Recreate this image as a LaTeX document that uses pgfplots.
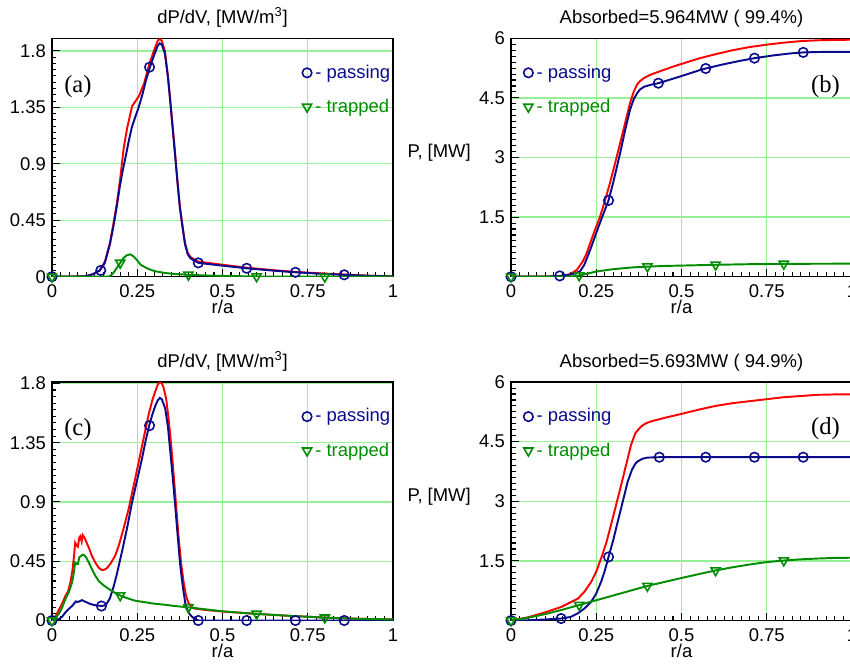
\documentclass[border=0pt]{standalone}
\usepackage{pgfplots}
\pgfplotsset{compat=1.18}
\usepackage{pgfplotstable}
\usepackage{fontspec}
\setmainfont{Liberation Sans}
\newfontfamily\serif{Liberation Serif}

\definecolor{pblue}{RGB}{10,10,140}
\definecolor{tgreen}{RGB}{0,140,0}
\definecolor{gridgreen}{RGB}{150,240,150}

% ---------- (a) power density, case 1 ----------
\pgfplotstableread{
x y
0 0
0.05 0
0.10 0.005
0.12 0.02
0.14 0.05
0.155 0.12
0.17 0.27
0.18 0.42
0.19 0.58
0.20 0.78
0.21 1.02
0.22 1.18
0.23 1.30
0.235 1.36
0.245 1.40
0.255 1.44
0.27 1.54
0.285 1.69
0.30 1.81
0.31 1.88
0.316 1.895
0.322 1.88
0.331 1.80
0.34 1.60
0.346 1.43
0.355 1.16
0.361 0.98
0.368 0.76
0.375 0.56
0.383 0.40
0.39 0.27
0.398 0.19
0.405 0.16
0.415 0.14
0.43 0.12
0.5 0.095
0.57 0.072
0.65 0.052
0.72 0.037
0.8 0.025
0.86 0.017
0.93 0.008
1.0 0.003
}\aRed
\pgfplotstableread{
x y
0 0
0.05 0
0.10 0.004
0.12 0.02
0.14 0.05
0.155 0.11
0.17 0.26
0.18 0.40
0.19 0.56
0.199 0.72
0.207 0.84
0.214 0.93
0.225 1.08
0.234 1.19
0.245 1.28
0.253 1.34
0.265 1.45
0.275 1.56
0.286 1.66
0.30 1.77
0.31 1.84
0.316 1.86
0.322 1.85
0.331 1.78
0.34 1.59
0.346 1.42
0.355 1.15
0.361 0.97
0.368 0.75
0.375 0.55
0.383 0.39
0.39 0.26
0.398 0.18
0.405 0.15
0.415 0.13
0.43 0.11
0.5 0.088
0.571 0.067
0.65 0.048
0.714 0.035
0.8 0.022
0.857 0.015
0.93 0.007
1.0 0.002
}\aBlue
\pgfplotstableread{
x y
0 0
0.16 0
0.17 0.005
0.18 0.03
0.19 0.07
0.20 0.11
0.21 0.15
0.22 0.172
0.23 0.178
0.24 0.16
0.25 0.13
0.26 0.095
0.28 0.065
0.30 0.045
0.33 0.03
0.36 0.022
0.40 0.015
0.45 0.01
0.5 0.006
0.6 0.002
0.7 0
1.0 0
}\aGreen

% ---------- (b) integrated power, case 1 ----------
\pgfplotstableread{
x y
0 0
0.1 0
0.14 0.01
0.16 0.03
0.175 0.07
0.193 0.17
0.21 0.38
0.22 0.55
0.232 0.84
0.245 1.15
0.261 1.51
0.275 1.90
0.29 2.35
0.305 2.85
0.32 3.36
0.335 3.88
0.349 4.37
0.36 4.66
0.37 4.84
0.378 4.92
0.39 5.00
0.408 5.08
0.44 5.18
0.476 5.29
0.52 5.41
0.554 5.50
0.6 5.60
0.65 5.70
0.7 5.78
0.75 5.84
0.8 5.89
0.85 5.93
0.9 5.95
0.95 5.96
1.0 5.964
}\bRed
\pgfplotstableread{
x y
0 0
0.1 0
0.143 0.02
0.17 0.05
0.185 0.08
0.202 0.13
0.215 0.30
0.232 0.67
0.25 1.10
0.265 1.45
0.286 1.92
0.30 2.38
0.32 3.11
0.335 3.70
0.349 4.20
0.36 4.47
0.37 4.62
0.378 4.71
0.39 4.78
0.41 4.83
0.432 4.87
0.47 4.97
0.5 5.05
0.554 5.20
0.571 5.24
0.62 5.34
0.67 5.43
0.714 5.50
0.77 5.57
0.82 5.62
0.857 5.645
0.9 5.655
0.95 5.66
1.0 5.66
}\bBlue
\pgfplotstableread{
x y
0 0
0.16 0
0.18 0.01
0.2 0.03
0.215 0.06
0.23 0.09
0.25 0.13
0.275 0.16
0.3 0.19
0.35 0.23
0.4 0.255
0.45 0.27
0.5 0.28
0.6 0.30
0.7 0.315
0.8 0.322
0.9 0.326
1.0 0.328
}\bGreen

% ---------- (c) power density, case 2 ----------
\pgfplotstableread{
x y
0 0
0.01 0.03
0.02 0.08
0.03 0.13
0.039 0.185
0.047 0.22
0.054 0.29
0.06 0.38
0.065 0.50
0.068 0.59
0.072 0.57
0.076 0.56
0.08 0.63
0.083 0.64
0.087 0.60
0.09 0.65
0.095 0.63
0.1 0.60
0.11 0.54
0.117 0.49
0.127 0.44
0.137 0.40
0.145 0.385
0.152 0.385
0.16 0.395
0.171 0.43
0.185 0.49
0.196 0.57
0.21 0.70
0.225 0.85
0.24 1.03
0.254 1.20
0.27 1.40
0.283 1.56
0.295 1.68
0.303 1.74
0.31 1.79
0.316 1.81
0.322 1.80
0.327 1.77
0.335 1.68
0.342 1.53
0.35 1.32
0.357 1.10
0.364 0.87
0.371 0.64
0.378 0.45
0.386 0.29
0.393 0.19
0.40 0.135
0.41 0.10
0.42 0.09
0.45 0.08
0.5 0.068
0.6 0.05
0.7 0.035
0.8 0.022
0.9 0.013
1.0 0.008
}\cRed
\pgfplotstableread{
x y
0 0
0.02 0.01
0.03 0.03
0.039 0.06
0.05 0.09
0.059 0.11
0.065 0.13
0.07 0.145
0.075 0.14
0.08 0.145
0.088 0.155
0.095 0.145
0.1 0.14
0.108 0.13
0.12 0.12
0.13 0.115
0.145 0.11
0.155 0.115
0.161 0.13
0.17 0.17
0.181 0.26
0.19 0.35
0.197 0.43
0.205 0.52
0.22 0.70
0.235 0.90
0.25 1.07
0.264 1.23
0.275 1.37
0.285 1.48
0.295 1.57
0.303 1.63
0.31 1.67
0.316 1.69
0.322 1.68
0.332 1.61
0.34 1.47
0.347 1.28
0.355 1.06
0.362 0.85
0.369 0.63
0.376 0.42
0.384 0.25
0.391 0.13
0.40 0.06
0.41 0.03
0.42 0.01
0.43 0
1.0 0
}\cBlue
\pgfplotstableread{
x y
0 0
0.01 0.02
0.02 0.05
0.03 0.10
0.039 0.16
0.05 0.22
0.059 0.29
0.065 0.38
0.068 0.44
0.072 0.43
0.076 0.43
0.08 0.48
0.085 0.49
0.09 0.50
0.095 0.495
0.1 0.48
0.11 0.43
0.117 0.39
0.127 0.34
0.137 0.30
0.15 0.27
0.166 0.24
0.185 0.21
0.2 0.19
0.22 0.17
0.244 0.15
0.27 0.14
0.293 0.13
0.33 0.12
0.36 0.11
0.4 0.10
0.45 0.085
0.5 0.07
0.6 0.05
0.7 0.035
0.8 0.022
0.9 0.013
1.0 0.008
}\cGreen

% ---------- (d) integrated power, case 2 ----------
\pgfplotstableread{
x y
0 0
0.05 0.08
0.098 0.20
0.147 0.34
0.196 0.55
0.215 0.72
0.235 0.97
0.25 1.23
0.264 1.56
0.28 1.97
0.293 2.40
0.308 2.90
0.323 3.41
0.338 3.93
0.352 4.42
0.365 4.72
0.381 4.88
0.395 4.96
0.41 5.01
0.45 5.10
0.5 5.20
0.557 5.32
0.6 5.40
0.65 5.47
0.7 5.52
0.75 5.57
0.8 5.62
0.85 5.65
0.9 5.68
0.95 5.69
1.0 5.693
}\dRed
\pgfplotstableread{
x y
0 0
0.05 0.005
0.098 0.025
0.147 0.05
0.175 0.09
0.196 0.18
0.215 0.30
0.235 0.47
0.25 0.68
0.264 0.97
0.275 1.25
0.286 1.60
0.3 2.03
0.313 2.49
0.328 3.00
0.342 3.49
0.355 3.80
0.365 3.95
0.371 4.00
0.385 4.07
0.40 4.10
0.435 4.11
1.0 4.11
}\dBlue
\pgfplotstableread{
x y
0 0
0.05 0.07
0.1 0.16
0.15 0.27
0.2 0.39
0.25 0.51
0.3 0.63
0.35 0.75
0.4 0.87
0.45 0.97
0.5 1.07
0.557 1.18
0.6 1.26
0.65 1.34
0.7 1.41
0.75 1.47
0.8 1.51
0.85 1.54
0.9 1.56
0.95 1.575
1.0 1.58
}\dGreen

\pgfplotsset{
  panel/.style={
    width=6.82cm, height=4.768cm, scale only axis, anchor=south west,
    xmin=0, xmax=1,
    xtick={0,0.25,0.5,0.75,1}, xticklabels={0,0.25,0.5,0.75,1},
    minor x tick num=9,
    xtick pos=left, ytick pos=left, tick align=inside,
    major tick length=0.16cm, minor tick length=0.09cm,
    tick style={black, line width=0.6pt},
    axis line style={line width=0.8pt},
    xmajorgrids, ymajorgrids, major grid style={gridgreen, line width=0.8pt},
    /pgf/number format/assume math mode=true,
    tick label style={font=\fontsize{10.5}{12}\selectfont},
    xticklabel style={anchor=base, yshift=-0.42cm},
    xlabel={r/a},
    every axis x label/.style={at={(0.5,0)}, anchor=base, yshift=-0.74cm, font=\fontsize{10.5}{12}\selectfont},
    every axis title/.style={at={(0.5,1)}, anchor=base, yshift=0.3cm, font=\fontsize{10.5}{12}\selectfont},
    every axis y label/.style={at={(0,0.52)}, anchor=east, xshift=-0.68cm, font=\fontsize{10.5}{12}\selectfont},
    legend style={draw=none, fill=none, anchor=north west, inner sep=0pt,
      row sep=0.22cm, font=\fontsize{10.5}{12}\selectfont},
    legend cell align=left,
    legend image code/.code={\draw[mark repeat=2,mark phase=2] plot coordinates {(0cm,0cm) (0.1cm,0cm) (0.2cm,0cm)};},
  },
  dens/.style={panel, ymin=0, ytick={0,0.45,0.9,1.35,1.8}, yticklabels={0,0.45,0.9,1.35,1.8},
    minor y tick num=8,
    title={dP/dV, [MW/m\textsuperscript{3}]},
    legend style={at={(rel axis cs:0.733,0.905)}}},
  pow/.style={panel, ymin=0, ymax=6, ytick={0,1.5,3,4.5,6}, yticklabels={,1.5,3,4.5,6},
    minor y tick num=9,
    ylabel={P, [MW]},
    legend style={at={(rel axis cs:0.036,0.905)}}},
  totline/.style={red, line width=1.1pt, no marks, forget plot},
  pasline/.style={pblue, line width=1.1pt, no marks, forget plot},
  trpline/.style={tgreen, line width=1.1pt, no marks, forget plot},
  pasmark/.style={pblue, only marks, mark=o, mark size=2.7pt, mark options={line width=0.9pt}},
  trpmark/.style={tgreen, only marks, mark=triangle, mark size=3pt, mark options={rotate=180, line width=0.9pt}},
}

\begin{document}
\begin{tikzpicture}
% (a)
\begin{axis}[dens, at={(1.04cm,-5.534cm)}, ymax=1.9]
  \addplot[totline] table {\aRed};
  \addplot[pasline] table {\aBlue};
  \addplot[pasmark] coordinates {(0,0) (0.143,0.05) (0.286,1.67) (0.429,0.11) (0.571,0.067) (0.714,0.035) (0.857,0.015)};
  \addlegendentry{\textcolor{pblue}{- passing}}
  \addplot[trpline] table {\aGreen};
  \addplot[trpmark] coordinates {(0,0) (0.2,0.11) (0.4,0.015) (0.6,0.002) (0.8,0)};
  \addlegendentry{\textcolor{tgreen}{- trapped}}
  \node[font={\fontsize{14}{16}\serif}] at (rel axis cs:0.076,0.796) {(a)};
\end{axis}
% (b)
\begin{axis}[pow, at={(10.22cm,-5.534cm)}, title={Absorbed=5.964MW ( 99.4\%)}]
  \addplot[totline] table {\bRed};
  \addplot[pasline] table {\bBlue};
  \addplot[pasmark] coordinates {(0,0) (0.143,0.02) (0.286,1.92) (0.432,4.87) (0.571,5.24) (0.714,5.50) (0.857,5.645)};
  \addlegendentry{\textcolor{pblue}{- passing}}
  \addplot[trpline] table {\bGreen};
  \addplot[trpmark] coordinates {(0,0) (0.2,0.03) (0.4,0.255) (0.6,0.30) (0.8,0.322)};
  \addlegendentry{\textcolor{tgreen}{- trapped}}
  \node[font={\fontsize{14}{16}\serif}] at (rel axis cs:0.922,0.796) {(b)};
\end{axis}
% (c)
\begin{axis}[dens, at={(1.04cm,-12.41cm)}, ymax=1.81]
  \addplot[totline] table {\cRed};
  \addplot[pasline] table {\cBlue};
  \addplot[pasmark] coordinates {(0,0) (0.145,0.11) (0.286,1.48) (0.429,0) (0.571,0) (0.714,0) (0.857,0)};
  \addlegendentry{\textcolor{pblue}{- passing}}
  \addplot[trpline] table {\cGreen};
  \addplot[trpmark] coordinates {(0,0) (0.2,0.19) (0.4,0.10) (0.6,0.05) (0.8,0.022)};
  \addlegendentry{\textcolor{tgreen}{- trapped}}
  \node[font={\fontsize{14}{16}\serif}] at (rel axis cs:0.076,0.80) {(c)};
\end{axis}
% (d)
\begin{axis}[pow, at={(10.22cm,-12.41cm)}, title={Absorbed=5.693MW ( 94.9\%)}]
  \addplot[totline] table {\dRed};
  \addplot[pasline] table {\dBlue};
  \addplot[pasmark] coordinates {(0,0) (0.147,0.05) (0.286,1.60) (0.435,4.11) (0.571,4.11) (0.714,4.11) (0.857,4.11)};
  \addlegendentry{\textcolor{pblue}{- passing}}
  \addplot[trpline] table {\dGreen};
  \addplot[trpmark] coordinates {(0,0) (0.2,0.39) (0.4,0.87) (0.6,1.26) (0.8,1.51)};
  \addlegendentry{\textcolor{tgreen}{- trapped}}
  \node[font={\fontsize{14}{16}\serif}] at (rel axis cs:0.922,0.805) {(d)};
\end{axis}
\pgfresetboundingbox
\useasboundingbox (0,0) rectangle (17cm,-13.28cm);
\end{tikzpicture}
\end{document}
